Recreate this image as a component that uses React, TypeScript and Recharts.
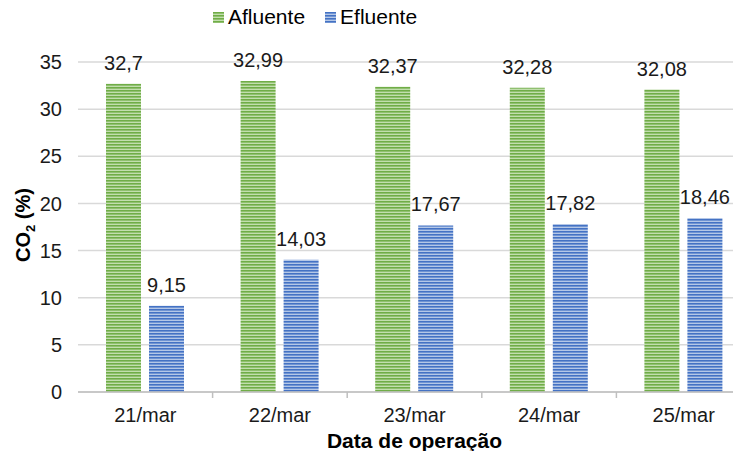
import React from 'react';
import {
  BarChart,
  Bar,
  XAxis,
  YAxis,
  CartesianGrid,
  LabelList,
} from 'recharts';

const CATEGORIES = ['21/mar', '22/mar', '23/mar', '24/mar', '25/mar'];
const AFLUENTE = [32.7, 32.99, 32.37, 32.28, 32.08];
const EFLUENTE = [9.15, 14.03, 17.67, 17.82, 18.46];
const Y_TICKS = [0, 5, 10, 15, 20, 25, 30, 35];

const data = CATEGORIES.map((name, i) => ({
  name,
  afluente: AFLUENTE[i],
  efluente: EFLUENTE[i],
}));

const FONT = '"Liberation Sans", Arial, sans-serif';
const GREEN = '#70AD47';
const GREEN_LIGHT = '#C2DEAE';
const BLUE = '#4472C4';
const BLUE_LIGHT = '#B4C7E7';
const TEXT = '#1a1a1a';

const fmt = (v: number) => String(v).replace('.', ',');

// category tick: label in the middle, small mark on the left boundary
const CategoryTick = (props: any) => {
  const { x, y, payload, index } = props;
  const band = props.width / CATEGORIES.length;
  return (
    <g>
      {index > 0 && (
        <line x1={x - band / 2} x2={x - band / 2} y1={y - 8} y2={y - 2} stroke="#BFBFBF" strokeWidth={1.5} />
      )}
      <text x={x} y={y + 22} textAnchor="middle" fontSize={20} fill={TEXT} fontFamily={FONT}>
        {payload.value}
      </text>
    </g>
  );
};

const YTitle = () => (
  <text
    transform="translate(30, 225) rotate(-90)"
    textAnchor="middle"
    fontSize={20}
    fontWeight="bold"
    fill="#000"
    fontFamily={FONT}
  >
    CO
    <tspan fontSize={13} dy={5}>2</tspan>
    <tspan dy={-5}> (%)</tspan>
  </text>
);

const LegendItem = ({ color, light, label }: { color: string; light: string; label: string }) => (
  <div style={{ display: 'flex', alignItems: 'center' }}>
    <svg width={11} height={11} style={{ marginRight: 4 }}>
      <rect width={11} height={11} fill={light} />
      {[0, 3, 6, 9].map((yy) => (
        <rect key={yy} y={yy} width={11} height={1.6} fill={color} />
      ))}
    </svg>
    <span>{label}</span>
  </div>
);

export default function App() {
  return (
    <div style={{ margin: -8, width: 741, height: 459, overflow: 'hidden', background: '#fff', position: 'relative' }}>
      <div
        style={{
          position: 'absolute',
          top: 5,
          left: 213,
          display: 'flex',
          gap: 20,
          fontFamily: FONT,
          fontSize: 21,
          color: '#000',
          zIndex: 1,
        }}
      >
        <LegendItem color={GREEN} light={GREEN_LIGHT} label="Afluente" />
        <LegendItem color={BLUE} light={BLUE_LIGHT} label="Efluente" />
      </div>
      <BarChart
        width={751}
        height={459}
        data={data}
        margin={{ top: 62, right: 0, bottom: 2, left: 0 }}
        barSize={35}
        barGap={8}
      >
        <defs>
          <pattern id="greenStripes" patternUnits="userSpaceOnUse" width={6} height={3}>
            <rect width={6} height={3} fill={GREEN_LIGHT} />
            <rect width={6} height={1.6} fill={GREEN} />
          </pattern>
          <pattern id="blueStripes" patternUnits="userSpaceOnUse" width={6} height={3}>
            <rect width={6} height={3} fill={BLUE_LIGHT} />
            <rect width={6} height={1.6} fill={BLUE} />
          </pattern>
        </defs>
        <CartesianGrid vertical={false} stroke="#D9D9D9" strokeWidth={1.5} />
        <XAxis
          dataKey="name"
          height={65}
          tickLine={false}
          axisLine={{ stroke: '#BFBFBF', strokeWidth: 1.5 }}
          tick={<CategoryTick />}
          interval={0}
          label={{
            value: 'Data de operação',
            position: 'insideBottom',
            offset: 9,
            style: { fontSize: 21, fontWeight: 'bold', fill: '#000', fontFamily: FONT },
          }}
        />
        <YAxis
          width={78}
          domain={[0, 35]}
          ticks={Y_TICKS}
          interval={0}
          axisLine={false}
          tickLine={false}
          tickSize={0}
          tickMargin={16}
          tick={{ fontSize: 20, fill: TEXT, fontFamily: FONT }}
          label={<YTitle />}
        />
        <Bar dataKey="afluente" name="Afluente" fill="url(#greenStripes)" isAnimationActive={false}>
          <LabelList
            dataKey="afluente"
            position="top"
            offset={14}
            formatter={(v: any) => fmt(v)}
            style={{ fontSize: 20, fill: TEXT, fontFamily: FONT }}
          />
        </Bar>
        <Bar dataKey="efluente" name="Efluente" fill="url(#blueStripes)" isAnimationActive={false}>
          <LabelList
            dataKey="efluente"
            position="top"
            offset={14}
            formatter={(v: any) => fmt(v)}
            style={{ fontSize: 20, fill: TEXT, fontFamily: FONT }}
          />
        </Bar>
      </BarChart>
    </div>
  );
}
